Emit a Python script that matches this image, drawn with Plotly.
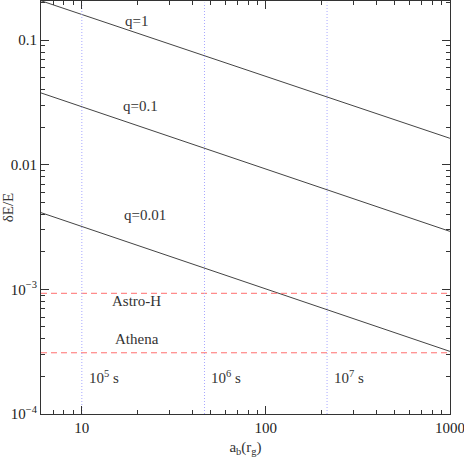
import numpy as np
import plotly.graph_objects as go

# Data
a_ends = [6, 1000]
q1_vals = [0.207, 0.0163]
q01_vals = [0.0377, 0.00292]
q001_vals = [0.00413, 0.000318]
astroh_level = 9.3e-4
athena_level = 3.1e-4
time_a = [10, 46.4, 215]
time_labels = ["10<sup>5</sup> s", "10<sup>6</sup> s", "10<sup>7</sup> s"]
x_tickvals = [10, 100, 1000]
x_ticktext = ["10", "100", "1000"]
y_tickvals = [1e-4, 1e-3, 1e-2, 1e-1]
y_ticktext = ["10<sup>−4</sup>", "10<sup>−3</sup>", "0.01", "0.1"]

FONT = "Liberation Serif"
TXT = "#333333"

fig = go.Figure()
for vals in (q1_vals, q01_vals, q001_vals):
    fig.add_trace(go.Scatter(x=a_ends, y=vals, mode="lines",
                             line=dict(color="#444444", width=1), showlegend=False))
for lvl in (astroh_level, athena_level):
    fig.add_trace(go.Scatter(x=a_ends, y=[lvl, lvl], mode="lines",
                             line=dict(color="#ff6f6f", width=1, dash="6px,4px"),
                             showlegend=False))
for ta in time_a:
    fig.add_trace(go.Scatter(x=[ta, ta], y=[1e-4, 0.2], mode="lines",
                             line=dict(color="#a8a8ff", width=1, dash="1px,2px"),
                             showlegend=False))

ann = [
    ("q=1", 1.299, -0.846),
    ("q=0.1", 1.321, -1.526),
    ("q=0.01", 1.342, -2.406),
    ("Astro-H", 1.299, -3.094),
    ("Athena", 1.299, -3.398),
]
for t, xl, yl in ann:
    fig.add_annotation(x=xl, y=yl, xref="x", yref="y", text=t, showarrow=False,
                       font=dict(family=FONT, size=15, color=TXT))
for ta, lab, xl in zip(time_a, time_labels, [1.12, 1.783, 2.451]):
    fig.add_annotation(x=xl, y=-3.70, xref="x", yref="y", text=lab, showarrow=False,
                       font=dict(family=FONT, size=15, color=TXT))

def minors(lo, hi):
    out = []
    for d in range(lo, hi):
        for m in range(2, 10):
            out.append(m * 10.0 ** d)
    return out

fig.update_xaxes(type="log", range=[np.log10(6), 3.0005], tickmode="array",
                 tickvals=x_tickvals, ticktext=x_ticktext, ticks="inside",
                 ticklen=8, tickcolor="#333", showline=True, linecolor="#333",
                 linewidth=1, mirror="allticks", showgrid=False, zeroline=False,
                 automargin=False, ticklabeloverflow="allow",
                 minor=dict(tickmode="array", tickvals=minors(0, 3), ticks="inside",
                            ticklen=4, tickcolor="#333", showgrid=False),
                 tickfont=dict(family=FONT, size=15, color="#222"),
                 title=dict(text="a<sub>b</sub>(r<sub>g</sub>)", standoff=6,
                            font=dict(family=FONT, size=15, color=TXT)))
fig.update_yaxes(type="log", range=[-4, -0.686], tickmode="array",
                 tickvals=y_tickvals, ticktext=y_ticktext, ticks="inside",
                 ticklen=8, tickcolor="#333", showline=True, linecolor="#333",
                 linewidth=1, mirror="allticks", showgrid=False, zeroline=False,
                 automargin=False, ticklabeloverflow="allow",
                 minor=dict(tickmode="array", tickvals=minors(-4, 0), ticks="inside",
                            ticklen=4, tickcolor="#333", showgrid=False),
                 tickfont=dict(family=FONT, size=15, color="#222"),
                 title=dict(text="δE/E", standoff=4,
                            font=dict(family=FONT, size=15, color=TXT)))
fig.update_layout(width=464, height=464, margin=dict(l=41, r=14, t=1, b=50),
                  plot_bgcolor="white", paper_bgcolor="white")
fig.write_html("out.html", config={"displayModeBar": False},
               post_script="document.body.style.margin='0';document.body.style.padding='0';")
